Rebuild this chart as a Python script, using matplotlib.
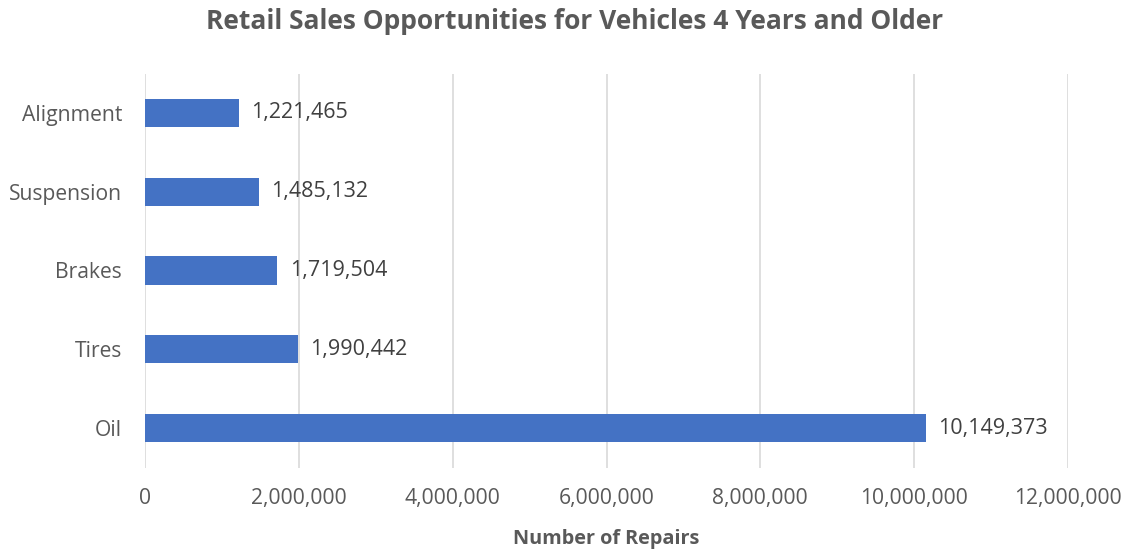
import matplotlib.pyplot as plt
from matplotlib.ticker import FuncFormatter

categories = ["Oil", "Tires", "Brakes", "Suspension", "Alignment"]
repairs = [10149373, 1990442, 1719504, 1485132, 1221465]
xticks = [0, 2000000, 4000000, 6000000, 8000000, 10000000, 12000000]

plt.rcParams['font.family'] = ['Open Sans', 'DejaVu Sans']

fig = plt.figure(figsize=(11.28, 5.51), dpi=100)
ax = fig.add_axes([145 / 1128, 1 - 467.5 / 551, (1068 - 145) / 1128, 394 / 551])

ax.barh(range(len(categories)), repairs, height=0.36, color='#4472C4', zorder=3)
for i, v in enumerate(repairs):
    ax.text(v + 160000, i, f"{v:,}", va='center', ha='left', fontsize=15.5, color='#404040')

ax.set_xlim(0, 12000000)
ax.set_ylim(-0.5, len(categories) - 0.5)
ax.set_xticks(xticks)
ax.xaxis.set_major_formatter(FuncFormatter(lambda x, p: f"{int(x):,}"))
ax.set_yticks(range(len(categories)))
ax.set_yticklabels(categories)
ax.tick_params(axis='both', length=0, labelsize=15.2, labelcolor='#595959')
ax.tick_params(axis='x', pad=15)
ax.tick_params(axis='y', pad=16.5)
ax.grid(axis='x', color='#D9D9D9', linewidth=1.2, zorder=0)
for s in ax.spines.values():
    s.set_visible(False)

ax.set_xlabel("Number of Repairs", fontsize=14.3, fontweight='bold', color='#595959', labelpad=14)
fig.suptitle("Retail Sales Opportunities for Vehicles 4 Years and Older",
             x=0.509, y=0.985, fontsize=19, fontweight='bold', color='#595959')

fig.savefig("out.png", dpi=100)
